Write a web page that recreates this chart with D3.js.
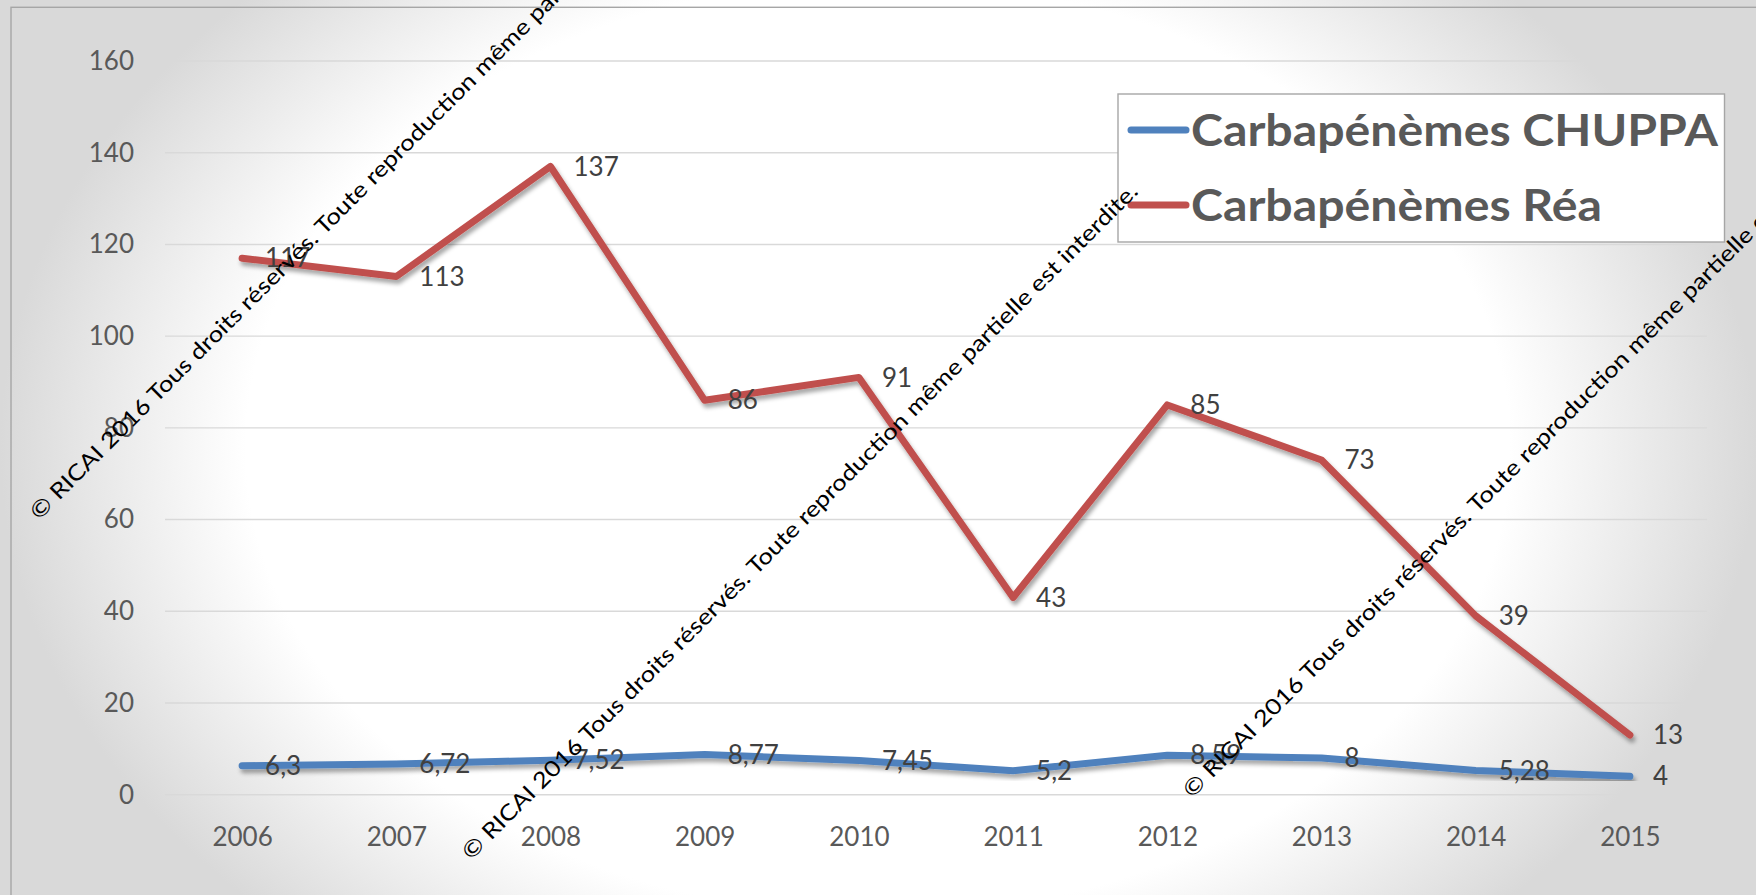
<!DOCTYPE html>
<html>
<head>
<meta charset="utf-8">
<script src="https://cdn.jsdelivr.net/npm/d3@7"></script>
<style>
  html, body { margin: 0; padding: 0; background: #ffffff; }
  svg { display: block; }
</style>
</head>
<body>
<svg id="chart" width="1756" height="895"></svg>
<script>
// Consommation de carbapénèmes, 2006-2015
const years = ["2006", "2007", "2008", "2009", "2010", "2011", "2012", "2013", "2014", "2015"];
const chuppa = [6.3, 6.72, 7.52, 8.77, 7.45, 5.2, 8.59, 8, 5.28, 4];
const rea = [117, 113, 137, 86, 91, 43, 85, 73, 39, 13];
const yTicks = [0, 20, 40, 60, 80, 100, 120, 140, 160];
const seriesNames = ["Carbapénèmes CHUPPA", "Carbapénèmes Réa"];
const seriesColors = ["#4f81bd", "#c0504d"];
const notice = "© RICAI 2016 Tous droits réservés. Toute reproduction même partielle est interdite.";

const W = 1756, H = 895;
const svg = d3.select("#chart");
const defs = svg.append("defs");

// soft slide background: white centre fading to grey at the sides
const bg = defs.append("radialGradient")
  .attr("id", "bgGrad")
  .attr("cx", 0.5).attr("cy", 0.5).attr("r", 0.5)
  .attr("gradientTransform", "translate(0.5,0.5) scale(1,1.45) translate(-0.5,-0.5)");
bg.append("stop").attr("offset", 0).attr("stop-color", "#ffffff");
bg.append("stop").attr("offset", 0.72).attr("stop-color", "#ffffff");
bg.append("stop").attr("offset", 1).attr("stop-color", "#d9d9d9");

const shadow = defs.append("filter").attr("id", "lineShadow")
  .attr("x", "-5%").attr("y", "-20%").attr("width", "110%").attr("height", "140%");
shadow.append("feDropShadow")
  .attr("dx", 2).attr("dy", 4).attr("stdDeviation", 2)
  .attr("flood-color", "#000").attr("flood-opacity", 0.35);

svg.append("rect").attr("width", W).attr("height", H).attr("fill", "url(#bgGrad)");

// chart frame (runs off the bottom and right edges)
svg.append("rect")
  .attr("x", 11).attr("y", 7.3).attr("width", W + 50).attr("height", H + 50)
  .attr("fill", "none").attr("stroke", "#a6a6a6").attr("stroke-width", 1.4);

const x = d3.scalePoint().domain(years).range([165, 1707]).padding(0.5);
const y = d3.scaleLinear().domain([0, 160]).range([794.7, 61]);

const font = "Lato, 'Open Sans', 'Liberation Sans', sans-serif";

// horizontal gridlines
svg.append("g").selectAll("line").data(yTicks).join("line")
  .attr("x1", 165).attr("x2", 1707)
  .attr("y1", d => y(d)).attr("y2", d => y(d))
  .attr("stroke", "#d9d9d9").attr("stroke-width", 1.4);

// value axis
const yAxis = svg.append("g").attr("transform", "translate(134,0)")
  .call(d3.axisLeft(y).tickValues(yTicks).tickSize(0).tickPadding(0));
yAxis.select(".domain").remove();
yAxis.selectAll("text")
  .attr("font-family", font).attr("font-size", 26).attr("fill", "#595959");

// category axis
const xAxis = svg.append("g").attr("transform", "translate(0,794.7)")
  .call(d3.axisBottom(x).tickSize(0).tickPadding(0));
xAxis.select(".domain").remove();
xAxis.selectAll("text")
  .attr("dy", null).attr("y", 51)
  .attr("font-family", font).attr("font-size", 26).attr("fill", "#595959");

// series lines
const series = [chuppa, rea];
const line = d3.line().x((d, i) => x(years[i])).y(d => y(d));
svg.append("g").selectAll("path").data(series).join("path")
  .attr("d", line)
  .attr("fill", "none")
  .attr("stroke", (d, i) => seriesColors[i])
  .attr("stroke-width", 7)
  .attr("stroke-linecap", "round")
  .attr("stroke-linejoin", "round")
  .attr("filter", "url(#lineShadow)");

// data labels to the right of each point
const fmt = v => String(v).replace(".", ",");
series.forEach(vals => {
  svg.append("g").selectAll("text").data(vals).join("text")
    .attr("x", (d, i) => x(years[i]) + 23)
    .attr("y", d => y(d))
    .attr("dy", "0.35em")
    .attr("font-family", font).attr("font-size", 26).attr("fill", "#404040")
    .text(fmt);
});

// legend
const legend = svg.append("g");
legend.append("rect")
  .attr("x", 1118).attr("y", 94).attr("width", 606.5).attr("height", 148)
  .attr("fill", "#ffffff").attr("stroke", "#a6a6a6").attr("stroke-width", 1.4);
const legendRows = [130, 205];
const legendTexts = [];
seriesNames.forEach((name, i) => {
  legend.append("line")
    .attr("x1", 1131).attr("x2", 1186)
    .attr("y1", legendRows[i]).attr("y2", legendRows[i])
    .attr("stroke", seriesColors[i]).attr("stroke-width", 7)
    .attr("stroke-linecap", "round");
  legendTexts.push(legend.append("text")
    .attr("x", 1191).attr("y", legendRows[i] + 16)
    .attr("font-family", font).attr("font-weight", "bold")
    .attr("font-size", 44).attr("fill", "#595959")
    .text(name));
});
// widen the legend labels so the longest one fills the box
const widest = d3.max(legendTexts, t => t.node().getComputedTextLength());
const stretch = 527 / widest;
legendTexts.forEach(t => {
  t.attr("textLength", t.node().getComputedTextLength() * stretch)
   .attr("lengthAdjust", "spacingAndGlyphs");
});

// copyright notices across the chart
const notices = [[39, 521], [471, 861], [1192, 799]];
svg.append("g").selectAll("text").data(notices).join("text")
  .attr("transform", d => `translate(${d[0]},${d[1]}) rotate(-45)`)
  .attr("font-family", font).attr("font-size", 22).attr("fill", "#000000")
  .attr("textLength", 945).attr("lengthAdjust", "spacingAndGlyphs")
  .text(notice);
</script>
</body>
</html>
